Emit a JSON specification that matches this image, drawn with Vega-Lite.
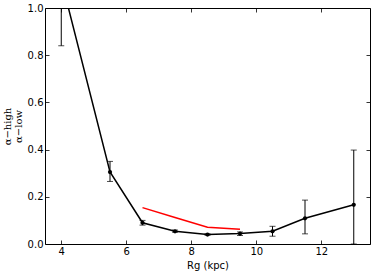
{
  "$schema": "https://vega.github.io/schema/vega-lite/v6.json",
  "width": 325,
  "height": 236,
  "autosize": "none",
  "padding": {"left": 45, "top": 8, "right": 4, "bottom": 32},
  "background": "white",
  "config": {
    "view": {"stroke": "black", "strokeWidth": 1},
    "axis": {"labelFont": "DejaVu Sans", "labelFontSize": 10, "labelColor": "black", "domain": false, "grid": false, "tickColor": "black", "tickSize": -4, "tickWidth": 0.8, "labelPadding": 6, "titleFontWeight": "normal", "titleColor": "black"}
  },
  "datasets": {
    "black": [
      {"r": 4.0, "v": 1.12, "lo": 0.84, "hi": 1.4},
      {"r": 5.5, "v": 0.305, "lo": 0.265, "hi": 0.35},
      {"r": 6.5, "v": 0.09, "lo": 0.08, "hi": 0.1},
      {"r": 7.5, "v": 0.054, "lo": 0.05, "hi": 0.059},
      {"r": 8.5, "v": 0.04, "lo": 0.037, "hi": 0.043},
      {"r": 9.5, "v": 0.044, "lo": 0.036, "hi": 0.051},
      {"r": 10.5, "v": 0.054, "lo": 0.033, "hi": 0.075},
      {"r": 11.5, "v": 0.109, "lo": 0.043, "hi": 0.186},
      {"r": 13.0, "v": 0.166, "lo": 0.0, "hi": 0.398}
    ],
    "red": [
      {"r": 6.5, "v": 0.154},
      {"r": 7.5, "v": 0.112},
      {"r": 8.5, "v": 0.071},
      {"r": 9.5, "v": 0.062}
    ]
  },
  "layer": [
    {
      "data": {"name": "black"},
      "layer": [
        {
          "mark": {"type": "rule", "color": "black", "strokeWidth": 1, "clip": true},
          "encoding": {
            "x": {"field": "r", "type": "quantitative", "scale": {"domain": [3.5, 13.5], "nice": false}, "axis": {"values": [4, 6, 8, 10, 12], "title": "Rg (kpc)", "titleFont": "DejaVu Sans", "titleFontSize": 10, "titlePadding": 4}},
            "y": {"field": "lo", "type": "quantitative", "scale": {"domain": [0, 1], "nice": false}, "axis": {"values": [0, 0.2, 0.4, 0.6, 0.8, 1.0], "format": ".1f", "title": ["α−high", "α−low"], "titleFont": "DejaVu Serif", "titleFontSize": 10, "titleLineHeight": 11, "titlePadding": 4}},
            "y2": {"field": "hi"}
          }
        },
        {
          "mark": {"type": "tick", "color": "black", "size": 6, "thickness": 1, "orient": "horizontal", "clip": true},
          "encoding": {
            "x": {"field": "r", "type": "quantitative"},
            "y": {"field": "lo", "type": "quantitative"}
          }
        },
        {
          "mark": {"type": "tick", "color": "black", "size": 6, "thickness": 1, "orient": "horizontal", "clip": true},
          "encoding": {
            "x": {"field": "r", "type": "quantitative"},
            "y": {"field": "hi", "type": "quantitative"}
          }
        },
        {
          "mark": {"type": "line", "color": "black", "strokeWidth": 1.5, "clip": true},
          "encoding": {
            "x": {"field": "r", "type": "quantitative"},
            "y": {"field": "v", "type": "quantitative"}
          }
        },
        {
          "mark": {"type": "point", "filled": true, "color": "black", "size": 18, "opacity": 1, "clip": true},
          "encoding": {
            "x": {"field": "r", "type": "quantitative"},
            "y": {"field": "v", "type": "quantitative"}
          }
        }
      ]
    },
    {
      "data": {"name": "red"},
      "mark": {"type": "line", "color": "red", "strokeWidth": 1.5, "clip": true},
      "encoding": {
        "x": {"field": "r", "type": "quantitative", "axis": {"orient": "top", "values": [4, 6, 8, 10, 12], "labels": false, "title": null}},
        "y": {"field": "v", "type": "quantitative", "axis": {"orient": "right", "values": [0, 0.2, 0.4, 0.6, 0.8, 1.0], "labels": false, "title": null}}
      }
    }
  ],
  "resolve": {"axis": {"x": "independent", "y": "independent"}}
}
